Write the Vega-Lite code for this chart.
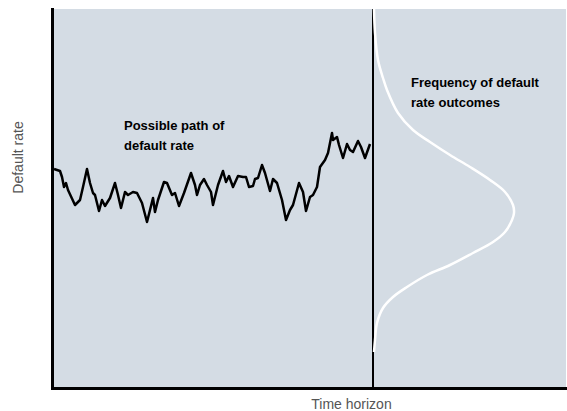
{
  "$schema": "https://vega.github.io/schema/vega-lite/v6.json",
  "width": 514,
  "height": 379,
  "autosize": {"type": "none"},
  "padding": {"left": 52, "top": 9, "right": 1, "bottom": 23},
  "background": "#ffffff",
  "view": {"fill": "#d4dce4", "stroke": null},
  "datasets": {
    "path": [
      {"i":1,"t":2,"r":219},{"i":2,"t":8,"r":217},{"i":3,"t":10,"r":211},{"i":4,"t":12,"r":201},{"i":5,"t":14,"r":205},
      {"i":6,"t":16,"r":198},{"i":7,"t":23,"r":183},{"i":8,"t":28,"r":188},{"i":9,"t":31,"r":201},{"i":10,"t":35,"r":219},
      {"i":11,"t":38,"r":205},{"i":12,"t":41,"r":195},{"i":13,"t":43,"r":193},{"i":14,"t":47,"r":177},{"i":15,"t":50,"r":188},
      {"i":16,"t":53,"r":182},{"i":17,"t":58,"r":190},{"i":18,"t":63,"r":205},{"i":19,"t":66,"r":193},{"i":20,"t":69,"r":180},
      {"i":21,"t":73,"r":196},{"i":22,"t":76,"r":193},{"i":23,"t":81,"r":196},{"i":24,"t":85,"r":195},{"i":25,"t":90,"r":185},
      {"i":26,"t":95,"r":166},{"i":27,"t":98,"r":178},{"i":28,"t":101,"r":190},{"i":29,"t":103,"r":176},{"i":30,"t":106,"r":188},
      {"i":31,"t":112,"r":206},{"i":32,"t":115,"r":205},{"i":33,"t":120,"r":193},{"i":34,"t":123,"r":195},{"i":35,"t":127,"r":182},
      {"i":36,"t":132,"r":195},{"i":37,"t":139,"r":215},{"i":38,"t":143,"r":203},{"i":39,"t":145,"r":193},{"i":40,"t":148,"r":203},
      {"i":41,"t":152,"r":209},{"i":42,"t":155,"r":203},{"i":43,"t":159,"r":196},{"i":44,"t":161,"r":183},{"i":45,"t":166,"r":203},
      {"i":46,"t":171,"r":217},{"i":47,"t":174,"r":206},{"i":48,"t":177,"r":212},{"i":49,"t":181,"r":201},{"i":50,"t":186,"r":212},
      {"i":51,"t":191,"r":211},{"i":52,"t":194,"r":211},{"i":53,"t":197,"r":201},{"i":54,"t":201,"r":202},{"i":55,"t":203,"r":209},
      {"i":56,"t":206,"r":210},{"i":57,"t":210,"r":223},{"i":58,"t":213,"r":215},{"i":59,"t":218,"r":197},{"i":60,"t":221,"r":209},
      {"i":61,"t":225,"r":205},{"i":62,"t":230,"r":188},{"i":63,"t":234,"r":168},{"i":64,"t":238,"r":178},{"i":65,"t":241,"r":183},
      {"i":66,"t":247,"r":205},{"i":67,"t":251,"r":196},{"i":68,"t":254,"r":177},{"i":69,"t":258,"r":191},{"i":70,"t":261,"r":193},
      {"i":71,"t":265,"r":201},{"i":72,"t":268,"r":221},{"i":73,"t":273,"r":228},{"i":74,"t":276,"r":235},{"i":75,"t":280,"r":255},
      {"i":76,"t":281,"r":248},{"i":77,"t":285,"r":251},{"i":78,"t":287,"r":243},{"i":79,"t":291,"r":230},{"i":80,"t":295,"r":244},
      {"i":81,"t":298,"r":238},{"i":82,"t":301,"r":236},{"i":83,"t":306,"r":247},{"i":84,"t":309,"r":241},{"i":85,"t":313,"r":230},
      {"i":86,"t":318,"r":244}
    ],
    "density": [
      {"i":1,"f":322,"r":379},{"i":2,"f":323,"r":355},{"i":3,"f":326,"r":328},{"i":4,"f":331,"r":310},{"i":5,"f":335,"r":298},
      {"i":6,"f":346,"r":275},{"i":7,"f":361,"r":258},{"i":8,"f":378,"r":246},{"i":9,"f":398,"r":233},{"i":10,"f":418,"r":221},
      {"i":11,"f":438,"r":208},{"i":12,"f":453,"r":196},{"i":13,"f":461,"r":183},{"i":14,"f":462,"r":175},{"i":15,"f":460,"r":168},
      {"i":16,"f":453,"r":156},{"i":17,"f":441,"r":146},{"i":18,"f":421,"r":135},{"i":19,"f":398,"r":123},{"i":20,"f":375,"r":113},
      {"i":21,"f":355,"r":101},{"i":22,"f":341,"r":91},{"i":23,"f":331,"r":80},{"i":24,"f":325,"r":65},{"i":25,"f":323,"r":48},
      {"i":26,"f":322,"r":36}
    ],
    "labels": [
      {"t":72,"r":258,"label":"Possible path of"},
      {"t":72,"r":238,"label":"default rate"},
      {"t":359,"r":301,"label":"Frequency of default"},
      {"t":359,"r":281,"label":"rate outcomes"}
    ]
  },
  "encoding": {},
  "layer": [
    {
      "data": {"values": [{"t": 321}]},
      "mark": {"type": "rule", "color": "#000000", "strokeWidth": 2},
      "encoding": {
        "x": {
          "field": "t", "type": "quantitative",
          "scale": {"domain": [0, 514], "nice": false, "zero": false},
          "axis": {
            "title": "Time horizon", "domain": true, "domainColor": "#000000", "domainWidth": 3,
            "domainCap": "square", "ticks": false, "labels": false, "grid": false,
            "titleFont": "Liberation Sans", "titleFontSize": 14, "titleFontWeight": "normal",
            "titleColor": "#555555", "titleX": 299, "titleY": 20, "titleAlign": "center",
            "titleBaseline": "alphabetic", "titleAnchor": null, "titleLetterSpacing": 0.5
          }
        }
      }
    },
    {
      "data": {"name": "path"},
      "mark": {"type": "line", "color": "#000000", "strokeWidth": 2.5, "strokeJoin": "round"},
      "encoding": {
        "x": {"field": "t", "type": "quantitative"},
        "y": {
          "field": "r", "type": "quantitative",
          "scale": {"domain": [0, 379], "nice": false, "zero": false},
          "axis": {
            "title": "Default rate", "domain": true, "domainColor": "#000000", "domainWidth": 3,
            "domainCap": "square", "ticks": false, "labels": false, "grid": false,
            "titleFont": "Liberation Sans", "titleFontSize": 14, "titleFontWeight": "normal",
            "titleColor": "#555555", "titleAngle": 270, "titleX": -30, "titleY": 148,
            "titleAlign": "center", "titleBaseline": "alphabetic", "titleAnchor": null, "titleLetterSpacing": 0.5
          }
        },
        "order": {"field": "i", "type": "quantitative"}
      }
    },
    {
      "data": {"name": "density"},
      "mark": {"type": "line", "color": "#ffffff", "strokeWidth": 2.5, "strokeJoin": "round", "interpolate": "catmull-rom"},
      "encoding": {
        "x": {"field": "f", "type": "quantitative"},
        "y": {"field": "r", "type": "quantitative"},
        "order": {"field": "i", "type": "quantitative"}
      }
    },
    {
      "data": {"name": "labels"},
      "mark": {"type": "text", "align": "left", "baseline": "alphabetic", "font": "Liberation Sans",
               "fontSize": 13, "fontWeight": "bold", "letterSpacing": 0.5, "color": "#000000"},
      "encoding": {
        "x": {"field": "t", "type": "quantitative"},
        "y": {"field": "r", "type": "quantitative"},
        "text": {"field": "label"}
      }
    }
  ]
}
